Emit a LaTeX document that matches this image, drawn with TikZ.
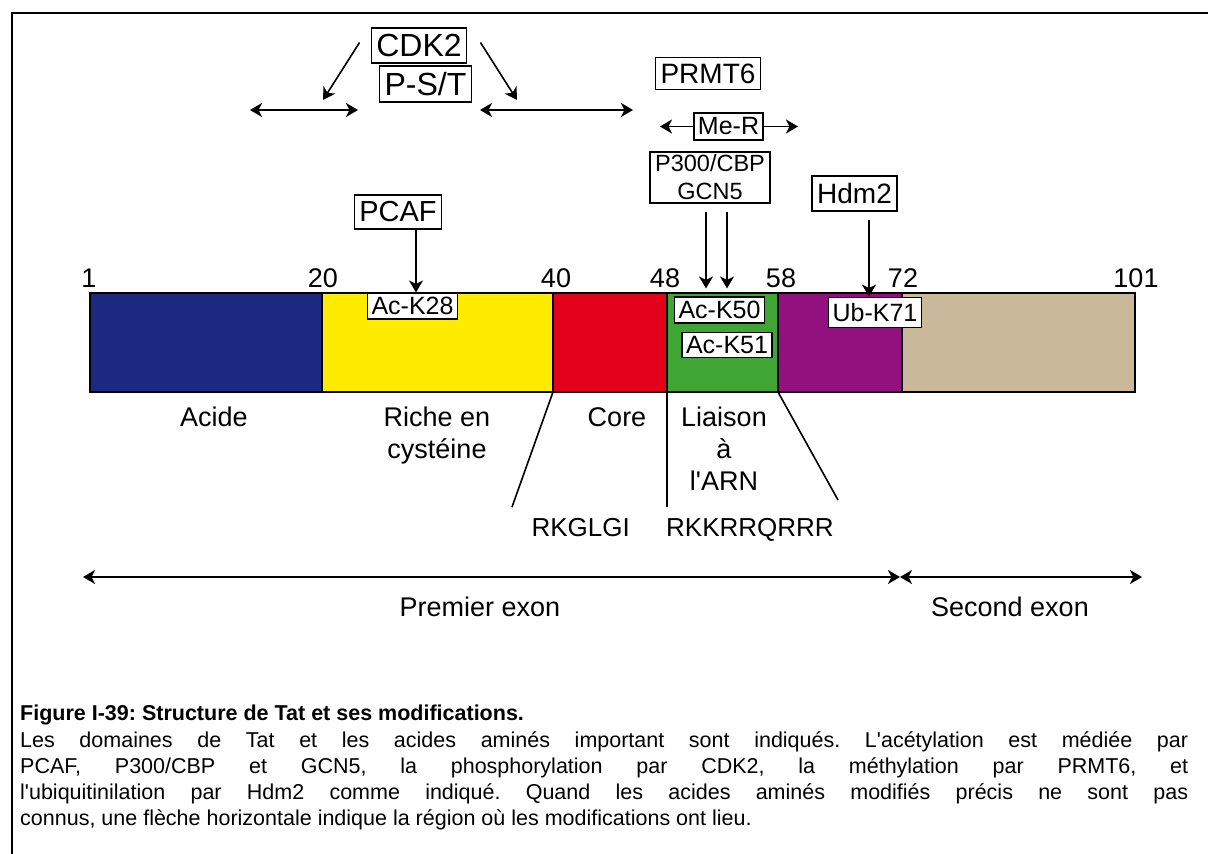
\documentclass[tikz,border=0pt]{standalone}
\usepackage{fontspec}
\setmainfont{Liberation Sans}[Ligatures=TeXOff]
\usetikzlibrary{arrows.meta, positioning}

\definecolor{acidecol}{RGB}{27,42,128}
\definecolor{cyscol}{RGB}{255,235,0}
\definecolor{corecol}{RGB}{226,0,26}
\definecolor{arncol}{RGB}{63,165,53}
\definecolor{basecol}{RGB}{146,17,126}
\definecolor{exoncol}{RGB}{201,185,154}

\begin{document}
\begin{tikzpicture}[
  x=1pt, y=-1pt, >={Stealth[length=12pt,width=14pt,inset=3.5pt]},
  every node/.style={font=\fontsize{27}{32}\selectfont},
  seg/.style={draw, line width=1.6pt, minimum height=99pt, inner sep=0pt, outer sep=0pt},
  modbox/.style={draw, fill=white, line width=1.4pt, inner xsep=4pt, inner ysep=4pt, font=\fontsize{25}{28}\selectfont},
  enzbox/.style={draw, fill=white, line width=1.6pt, inner xsep=5pt, inner ysep=7pt, font=\fontsize{28}{30}\selectfont},
  num/.style={anchor=base, inner sep=0pt},
  lab/.style={anchor=north, align=center, inner sep=0pt},
  arr/.style={->, line width=1.6pt},
  darr/.style={<->, line width=1.6pt}
]
  \useasboundingbox (0,0) rectangle (1208,854);
  \draw[line width=2.5pt] (12,854) -- (12,13) -- (1208,13);

  % domaines de Tat
  \node[seg, fill=acidecol, minimum width=232pt, anchor=north west] (acide) at (90,293) {};
  \node[seg, fill=cyscol, minimum width=231pt, right=0pt of acide] (riche) {};
  \node[seg, fill=corecol, minimum width=114pt, right=0pt of riche] (core) {};
  \node[seg, fill=arncol, minimum width=111pt, right=0pt of core] (arn) {};
  \node[seg, fill=basecol, minimum width=124pt, right=0pt of arn] (basique) {};
  \node[seg, fill=exoncol, minimum width=233pt, right=0pt of basique] (exon2) {};

  \node[num] (n1) at (89,287) {1};
  \node[num] (n20) at (323,287) {20};
  \node[num] (n40) at (556,287) {40};
  \node[num] (n48) at (665,287) {48};
  \node[num] (n58) at (781,287) {58};
  \node[num] (n72) at (903,287) {72};
  \node[num] (n101) at (1136,287) {101};

  \node[lab] (lacide) at (214,407) {Acide};
  \node[lab] (lriche) at (437,407) {Riche en\\cystéine};
  \node[lab] (lcore) at (617,407) {Core};
  \node[lab] (larn) at (724,407) {Liaison\\à\\l'ARN};

  \coordinate (s1) at (512,507);
  \coordinate (s2) at (667,507);
  \coordinate (s3) at (838,500);
  \draw[line width=1.6pt] (core.south west) -- (s1);
  \draw[line width=1.6pt] (arn.south west) -- (s2);
  \draw[line width=1.6pt] (basique.south west) -- (s3);
  \node[num, anchor=base east, font=\fontsize{26}{28}\selectfont] (rkg) at (630,536) {RKGLGI};
  \node[num, anchor=base west, font=\fontsize{26}{28}\selectfont] (rkk) at (666,536) {RKKRRQRRR};

  % exons
  \coordinate (e1) at (83,577);
  \coordinate (e2) at (900,577);
  \coordinate (e3) at (1142,577);
  \draw[darr] (e1) -- (e2);
  \draw[darr] (e2) -- (e3);
  \node[num] (lex1) at (480,616) {Premier exon};
  \node[num] (lex2) at (1010,616) {Second exon};

  % modifications
  \node[modbox] (k28) at (412.5,306) {Ac-K28};
  \node[modbox] (k50) at (719.5,310) {Ac-K50};
  \node[modbox] (k51) at (727,345) {Ac-K51};
  \node[modbox, inner ysep=6pt] (k71) at (875,312.5) {Ub-K71};

  \node[enzbox, font=\fontsize{29}{30}\selectfont] (pcaf) at (398,212) {PCAF};
  \node[enzbox] (hdm2) at (854.5,193.5) {Hdm2};
  \node[enzbox, align=center, inner ysep=3pt, font=\fontsize{23.5}{28}\selectfont] (p300) at (710,177.5) {P300/CBP\\GCN5};
  \node[enzbox, inner ysep=6pt] (prmt6) at (708,73.5) {PRMT6};
  \node[modbox, inner ysep=4.5pt, line width=1.6pt] (mer) at (728.5,126.5) {Me-R};
  \node[enzbox, inner ysep=6pt, font=\fontsize{32}{34}\selectfont] (cdk2) at (419,45.5) {CDK2};
  \node[enzbox, inner ysep=6pt, font=\fontsize{32}{34}\selectfont] (pst) at (425.5,84) {P-S/T};

  \draw[arr] ([xshift=18pt]pcaf.south) -- ([xshift=18pt]pcaf.south |- k28.north);
  \draw[arr, shorten <=8pt] ([xshift=14.5pt]hdm2.south) -- ([xshift=14.5pt]hdm2.south |- k71.north);
  \draw[arr, shorten <=8pt, shorten >=8pt] ([xshift=-4pt]p300.south) -- ([xshift=-4pt]p300.south |- k50.north);
  \draw[arr, shorten <=8pt, shorten >=8pt] ([xshift=17pt]p300.south) -- ([xshift=17pt]p300.south |- k50.north);

  \coordinate (mrg) at (660,126.5);
  \coordinate (mrd) at (798,126.5);
  \draw[arr] (mer.west) -- (mrg);
  \draw[arr] (mer.east) -- (mrd);

  \coordinate (pg1) at (250,110);
  \coordinate (pg2) at (358,110);
  \coordinate (pd1) at (480,110);
  \coordinate (pd2) at (633,110);
  \draw[darr] (pg1) -- (pg2);
  \draw[darr] (pd1) -- (pd2);
  \draw[arr] ([shift={(-11pt,3pt)}]cdk2.west) -- (323,100);
  \draw[arr] ([shift={(13pt,3pt)}]cdk2.east) -- (517,100);

  % legende
  \node[anchor=north west, text width=1168pt, align=justify, inner sep=0pt,
        font=\fontsize{21.5}{26.3}\selectfont] (legende) at (20,705)
  {\frenchspacing\hyphenpenalty=10000
   \textbf{Figure I-39: Structure de Tat et ses modifications.}\\
   Les domaines de Tat et les acides aminés important sont indiqués. L'acétylation est médiée par\linebreak
   PCAF, P300/CBP et GCN5, la phosphorylation par CDK2, la méthylation par PRMT6, et\linebreak
   l'ubiquitinilation par Hdm2 comme indiqué. Quand les acides aminés modifiés précis ne sont pas\linebreak
   connus, une flèche horizontale indique la région où les modifications ont lieu.};
\end{tikzpicture}
\end{document}
